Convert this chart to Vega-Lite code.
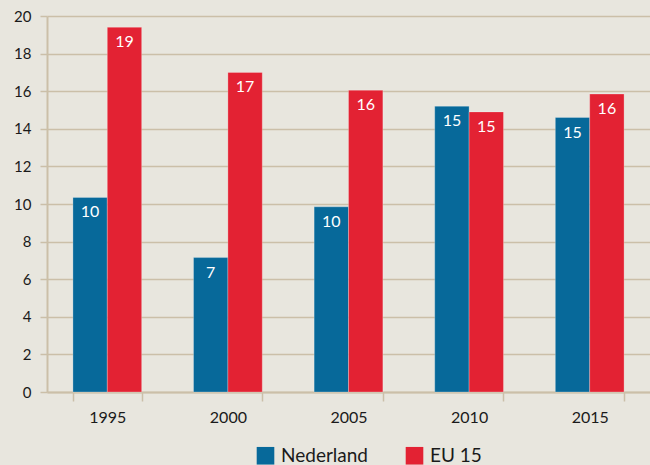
{
  "$schema": "https://vega.github.io/schema/vega-lite/v6.json",
  "width": 603,
  "height": 376,
  "autosize": {"type": "none"},
  "padding": {"left": 47, "top": 16, "right": 0, "bottom": 73},
  "background": "#e8e6de",
  "config": {
    "view": {"stroke": null},
    "font": "Lato",
    "axis": {"labelFont": "Lato", "labelColor": "#1a1a1a", "domainColor": "#cbbfa8", "tickColor": "#cbbfa8", "gridColor": "#cbbfa8"}
  },
  "data": {
    "values": [
      {"year": "1995", "series": "Nederland", "value": 10.35},
      {"year": "1995", "series": "EU 15", "value": 19.4},
      {"year": "2000", "series": "Nederland", "value": 7.15},
      {"year": "2000", "series": "EU 15", "value": 17.0},
      {"year": "2005", "series": "Nederland", "value": 9.85},
      {"year": "2005", "series": "EU 15", "value": 16.05},
      {"year": "2010", "series": "Nederland", "value": 15.2},
      {"year": "2010", "series": "EU 15", "value": 14.9},
      {"year": "2015", "series": "Nederland", "value": 14.6},
      {"year": "2015", "series": "EU 15", "value": 15.85}
    ]
  },
  "encoding": {
    "x": {
      "field": "year", "type": "nominal", "title": null,
      "scale": {"paddingInner": 0.43, "paddingOuter": 0.215},
      "axis": {"labelAngle": 0, "labelFontSize": 16, "labelPadding": 8, "tickBand": "extent", "tickSize": 9, "domainWidth": 2, "tickWidth": 1.5}
    },
    "xOffset": {"field": "series", "type": "nominal", "sort": ["Nederland", "EU 15"], "scale": {"paddingInner": 0}},
    "y": {
      "field": "value", "type": "quantitative", "title": null,
      "scale": {"domain": [0, 20]},
      "axis": {"values": [0, 2, 4, 6, 8, 10, 12, 14, 16, 18, 20], "labelFontSize": 15, "labelPadding": 9, "tickSize": 7, "domainWidth": 2, "gridWidth": 1.5, "tickWidth": 1.5, "grid": true}
    }
  },
  "layer": [
    {
      "mark": {"type": "bar", "stroke": "#ffffff", "strokeOpacity": 0.25, "strokeWidth": 1},
      "encoding": {
        "color": {
          "field": "series", "type": "nominal", "sort": ["Nederland", "EU 15"],
          "scale": {"domain": ["Nederland", "EU 15"], "range": ["#07699a", "#e32233"]},
          "legend": {
            "title": null, "orient": "none", "direction": "horizontal",
            "legendX": 209, "legendY": 430,
            "symbolType": "square", "symbolSize": 310, "symbolStrokeWidth": 0,
            "labelFontSize": 19, "labelColor": "#1a1a1a", "columnPadding": 36, "labelOffset": 6
          }
        }
      }
    },
    {
      "mark": {"type": "text", "color": "white", "baseline": "top", "dy": 7, "fontSize": 16},
      "encoding": {
        "text": {"field": "value", "type": "quantitative", "format": ".0f"}
      }
    }
  ]
}
